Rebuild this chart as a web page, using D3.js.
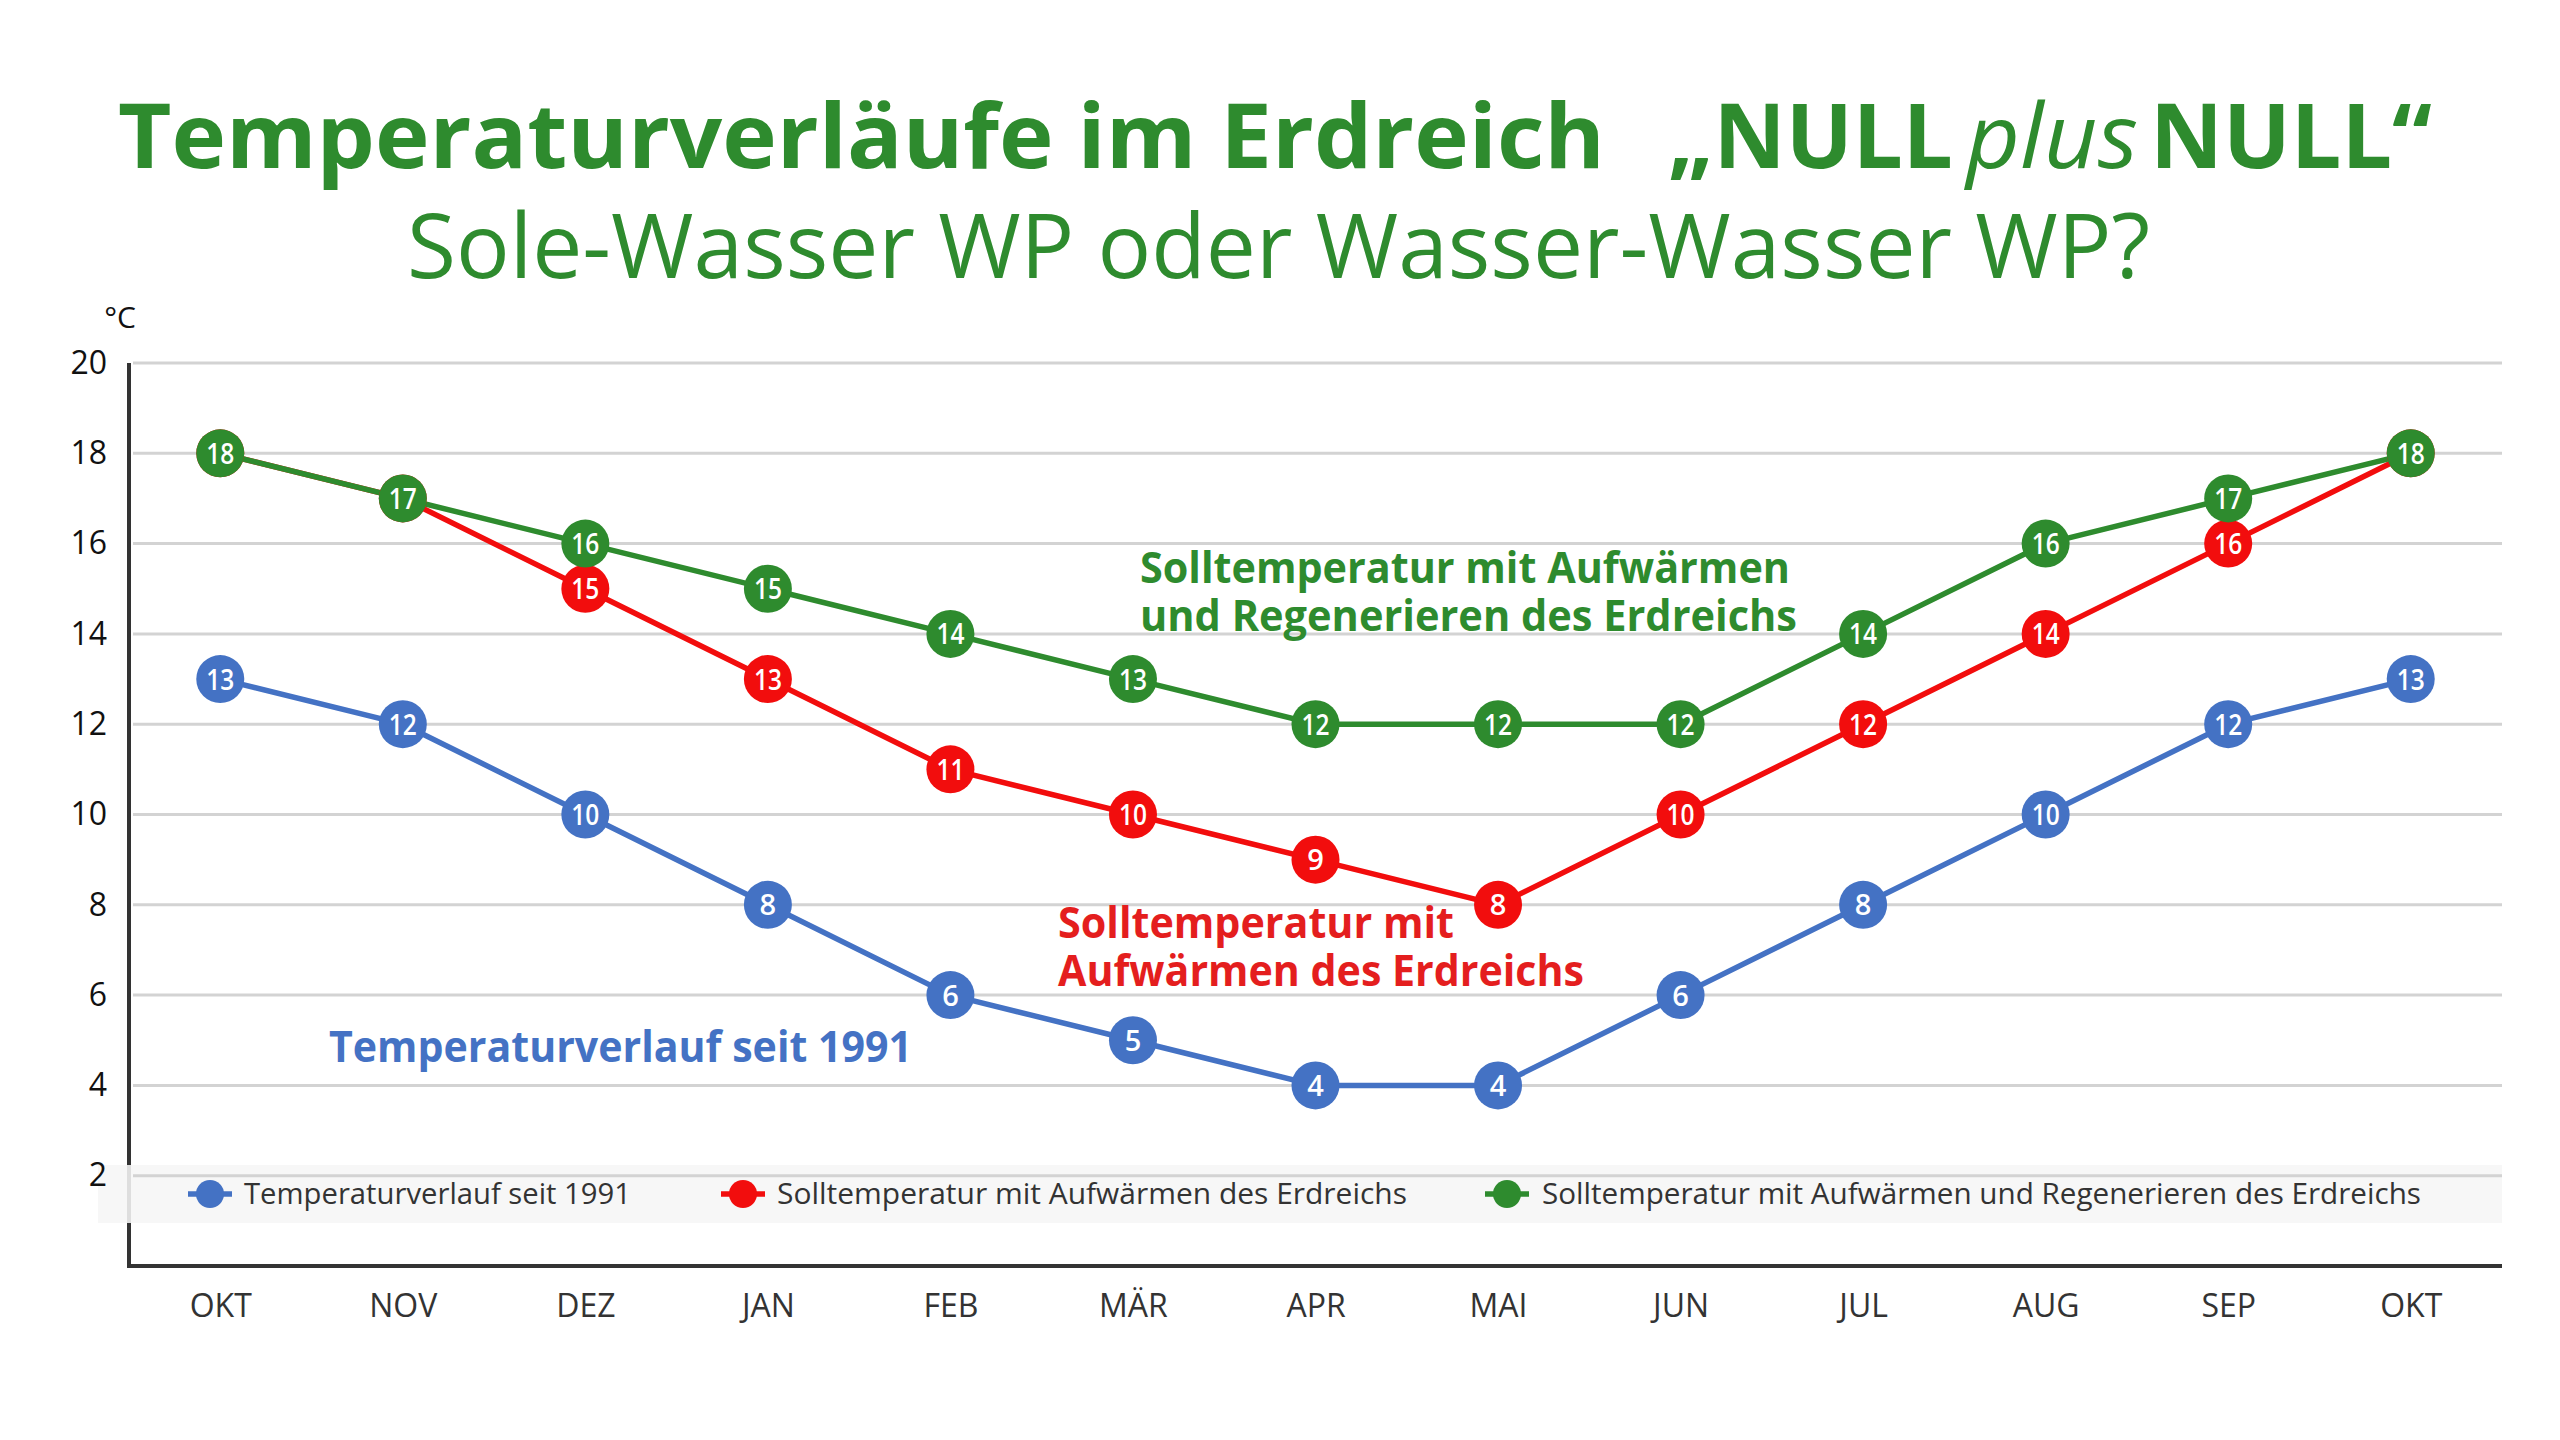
<!DOCTYPE html>
<html>
<head>
<meta charset="utf-8">
<script src="https://cdn.jsdelivr.net/npm/d3@7"></script>
<style>
  body { margin: 0; background: #fff; }
  text { font-family: "Open Sans", "Noto Sans", sans-serif; }
</style>
</head>
<body>
<svg width="2560" height="1440"></svg>
<script>
// chart data
const months = ["OKT", "NOV", "DEZ", "JAN", "FEB", "MÄR", "APR", "MAI", "JUN", "JUL", "AUG", "SEP", "OKT"];
const since1991 = [13, 12, 10, 8, 6, 5, 4, 4, 6, 8, 10, 12, 13];
const warming = [18, 17, 15, 13, 11, 10, 9, 8, 10, 12, 14, 16, 18];
const regenerating = [18, 17, 16, 15, 14, 13, 12, 12, 12, 14, 16, 17, 18];
const yTicks = [2, 4, 6, 8, 10, 12, 14, 16, 18, 20];
const seriesNames = [
  "Temperaturverlauf seit 1991",
  "Solltemperatur mit Aufwärmen des Erdreichs",
  "Solltemperatur mit Aufwärmen und Regenerieren des Erdreichs"
];

const BLUE = "#4472c4", RED = "#f20d0d", GREEN = "#2e8b2e", TXT = "#333";

const svg = d3.select("svg");

// stretch or squeeze a text so it spans a given width
function fit(t, w) {
  t.attr("textLength", w).attr("lengthAdjust", "spacingAndGlyphs");
  return t;
}

// Title
fit(svg.append("text").attr("x", 118).attr("y", 168)
   .attr("font-size", 90).attr("font-weight", 700).attr("fill", GREEN)
   .text("Temperaturverläufe im Erdreich"), 1487);
fit(svg.append("text").attr("x", 1668).attr("y", 168)
   .attr("font-size", 90).attr("font-weight", 700).attr("fill", GREEN)
   .text("„NULL"), 285);
fit(svg.append("text").attr("x", 1966).attr("y", 168)
   .attr("font-size", 90).attr("font-style", "italic").attr("fill", GREEN)
   .text("plus"), 172);
fit(svg.append("text").attr("x", 2150).attr("y", 168)
   .attr("font-size", 90).attr("font-weight", 700).attr("fill", GREEN)
   .text("NULL“"), 282);

// Subtitle
fit(svg.append("text").attr("x", 407).attr("y", 278)
   .attr("font-size", 90).attr("fill", GREEN)
   .text("Sole-Wasser WP oder Wasser-Wasser WP?"), 1743);

// Scales
const plotL = 129, plotR = 2502, plotT = 363, plotB = 1266;
const x = d3.scalePoint().domain(d3.range(months.length)).range([plotL, plotR]).padding(0.5);
const y = d3.scaleLinear().domain([0, 20]).range([plotB, plotT]);

// Unit label
svg.append("text").attr("x", 120).attr("y", 328)
   .attr("text-anchor", "middle").attr("font-size", 30).attr("fill", "#111")
   .text("°C");

// Axis lines
svg.append("line").attr("x1", plotL).attr("x2", plotL).attr("y1", plotT).attr("y2", plotB + 2)
   .attr("stroke", "#333").attr("stroke-width", 4);
svg.append("line").attr("x1", plotL - 2).attr("x2", plotR).attr("y1", plotB).attr("y2", plotB)
   .attr("stroke", "#333").attr("stroke-width", 4);

// Legend band (sits over the y axis line, under the gridlines)
svg.append("rect").attr("x", 98).attr("y", 1165).attr("width", plotR - 98).attr("height", 58)
   .attr("fill", "#f6f6f6").attr("opacity", 0.88);

// Gridlines
svg.append("g").selectAll("line").data(yTicks).join("line")
   .attr("x1", plotL + 4).attr("x2", plotR)
   .attr("y1", d => y(d)).attr("y2", d => y(d))
   .attr("stroke", "#d3d3d3").attr("stroke-width", 3);

// Y axis labels
const yAxis = svg.append("g").attr("transform", `translate(${plotL},0)`)
   .call(d3.axisLeft(y).tickValues(yTicks).tickSize(0).tickPadding(22));
yAxis.select(".domain").remove();
yAxis.selectAll("text").attr("font-size", 32).attr("fill", "#111")
   .style("font-family", "'Open Sans', sans-serif");

// X axis labels
const xAxis = svg.append("g").attr("transform", `translate(0,${plotB})`)
   .call(d3.axisBottom(x).tickSize(0).tickPadding(28).tickFormat(i => months[i]));
xAxis.select(".domain").remove();
xAxis.selectAll("text").attr("font-size", 32).attr("fill", TXT)
   .style("font-family", "'Open Sans', sans-serif");

// Series
const series = [
  { name: seriesNames[0], values: since1991, color: BLUE },
  { name: seriesNames[1], values: warming, color: RED },
  { name: seriesNames[2], values: regenerating, color: GREEN }
];

const line = d3.line().x((d, i) => x(i)).y(d => y(d));

svg.append("g").selectAll("path").data(series).join("path")
   .attr("d", s => line(s.values))
   .attr("fill", "none")
   .attr("stroke", s => s.color)
   .attr("stroke-width", 5.5)
   .attr("stroke-linejoin", "round");

series.forEach(s => {
  const g = svg.append("g");
  const pts = g.selectAll("g").data(s.values.map((v, i) => ({ v, i }))).join("g")
     .attr("transform", d => `translate(${x(d.i)},${y(d.v)})`);
  pts.append("circle").attr("r", 24).attr("fill", s.color);
  pts.append("text")
     .attr("text-anchor", "middle").attr("dy", "0.36em")
     .attr("font-size", 29).attr("font-weight", 600).attr("fill", "#fff")
     .attr("textLength", d => d.v >= 10 ? 28 : null)
     .attr("lengthAdjust", "spacingAndGlyphs")
     .text(d => d.v);
});

// Annotations
function note(lines, x0, y0, w, color) {
  lines.forEach((t, k) => {
    fit(svg.append("text").attr("x", x0).attr("y", y0 + k * 48)
       .attr("font-size", 43).attr("font-weight", 700).attr("fill", color)
       .text(t), w[k]);
  });
}
note(["Solltemperatur mit Aufwärmen", "und Regenerieren des Erdreichs"], 1140, 583, [650, 657], GREEN);
note(["Solltemperatur mit", "Aufwärmen des Erdreichs"], 1058, 938, [396, 526], "#e41e1e");
note(["Temperaturverlauf seit 1991"], 329, 1062, [583], BLUE);

// Legend entries
const legendPos = [
  { mx: 210, tx: 244, w: 387 },
  { mx: 743, tx: 777, w: 630 },
  { mx: 1507, tx: 1542, w: 879 }
];
series.forEach((s, k) => {
  const p = legendPos[k];
  svg.append("line").attr("x1", p.mx - 22).attr("x2", p.mx + 22)
     .attr("y1", 1194).attr("y2", 1194)
     .attr("stroke", s.color).attr("stroke-width", 5.5);
  svg.append("circle").attr("cx", p.mx).attr("cy", 1194).attr("r", 14).attr("fill", s.color);
  fit(svg.append("text").attr("x", p.tx).attr("y", 1204)
     .attr("font-size", 29).attr("fill", TXT)
     .text(s.name), p.w);
});
</script>
</body>
</html>
